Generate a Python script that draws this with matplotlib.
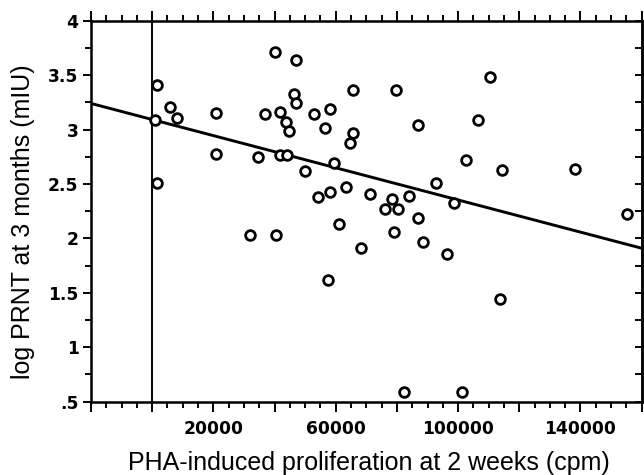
import matplotlib.pyplot as plt
from matplotlib.ticker import FixedLocator, MultipleLocator, FixedFormatter

# PHA-induced proliferation at 2 weeks (cpm)
PHA_CPM = [
    1700, 800, 1700, 5700, 8200, 20900, 20900, 32100, 40600, 34700,
    37000, 40300, 41900, 43900, 44600, 41900, 44100, 47100, 46300, 47100,
    49900, 52800, 54100, 56400, 58200, 58200, 59500, 65500, 65800, 64800,
    63500, 79800, 86900, 71300, 78400, 76200, 80200, 83800, 92700, 86800,
    61000, 78900, 88500, 98500, 102500, 106500, 110500, 114500, 138200, 155200,
    68300, 96300, 57600, 113700, 82400, 101300,
]
# log PRNT at 3 months (mIU)
LOG_PRNT = [
    3.41, 3.09, 2.51, 3.21, 3.11, 3.15, 2.78, 2.03, 2.03, 2.75,
    3.14, 3.71, 3.16, 3.07, 2.99, 2.77, 2.77, 3.64, 3.33, 3.24,
    2.62, 3.14, 2.38, 3.01, 3.19, 2.43, 2.69, 3.36, 2.97, 2.88,
    2.47, 3.36, 3.04, 2.41, 2.36, 2.27, 2.27, 2.39, 2.51, 2.19,
    2.13, 2.06, 1.97, 2.33, 2.72, 3.09, 3.48, 2.63, 2.64, 2.22,
    1.91, 1.86, 1.62, 1.44, 0.59, 0.59,
]

# regression line ends
FIT_X = [-20000, 160000]
FIT_Y = [3.24, 1.91]

X_TICKS = list(range(-20000, 160001, 20000))
X_LABELS = ["20000", "60000", "100000", "140000"]
Y_TICKS = [0.5, 1, 1.5, 2, 2.5, 3, 3.5, 4]
Y_LABELS = [".5", "1", "1.5", "2", "2.5", "3", "3.5", "4"]

plt.rcParams["font.family"] = ["DejaVu Sans"]

fig = plt.figure(figsize=(6.44, 4.75), dpi=100)
ax = fig.add_axes([0.1413, 0.1543, 0.8551, 0.8021])

ax.axvline(0, color="black", linewidth=1.4, zorder=1)
ax.plot(FIT_X, FIT_Y, color="black", linewidth=2.1, zorder=2)
ax.plot(PHA_CPM, LOG_PRNT, linestyle="none", marker="o", markersize=7,
        markerfacecolor="white", markeredgecolor="black",
        markeredgewidth=2.0, zorder=3)

ax.set_xlim(-20000, 160000)
ax.set_ylim(0.5, 4)

ax.xaxis.set_major_locator(FixedLocator(X_TICKS))
ax.xaxis.set_major_formatter(
    FixedFormatter([str(v) if str(v) in X_LABELS else "" for v in X_TICKS]))
ax.xaxis.set_minor_locator(MultipleLocator(5000))

ax.yaxis.set_major_locator(FixedLocator(Y_TICKS))
ax.yaxis.set_major_formatter(FixedFormatter(Y_LABELS))
ax.yaxis.set_minor_locator(MultipleLocator(0.25))

ax.tick_params(axis="x", which="both", direction="out", top=True, bottom=True,
               width=1.4, labelsize=12.3, pad=6)
ax.tick_params(axis="x", which="major", length=7)
ax.tick_params(axis="x", which="minor", length=4.5)
ax.tick_params(axis="y", which="both", direction="out", left=True, right=False,
               width=1.4, labelsize=12.3, pad=3)
ax.tick_params(axis="y", which="major", length=6)
ax.tick_params(axis="y", which="minor", length=4)
for t in ax.get_xticklabels() + ax.get_yticklabels():
    t.set_fontweight("bold")

sec = ax.secondary_yaxis("right")
sec.yaxis.set_major_locator(MultipleLocator(0.25))
sec.tick_params(axis="y", direction="in", length=5, width=1.4, labelright=False)
sec.spines["right"].set_linewidth(1.8)

for s in ax.spines.values():
    s.set_linewidth(1.8)

ax.set_xlabel("PHA-induced proliferation at 2 weeks (cpm)",
              family="Liberation Sans", fontsize=18, va="baseline")
ax.xaxis.set_label_coords(0.505, -0.179)
ax.set_ylabel("log PRNT at 3 months (mIU)",
              family="Liberation Sans", fontsize=18, va="center")
ax.yaxis.set_label_coords(-0.123, 0.472)

fig.savefig("out.png", dpi=100)
